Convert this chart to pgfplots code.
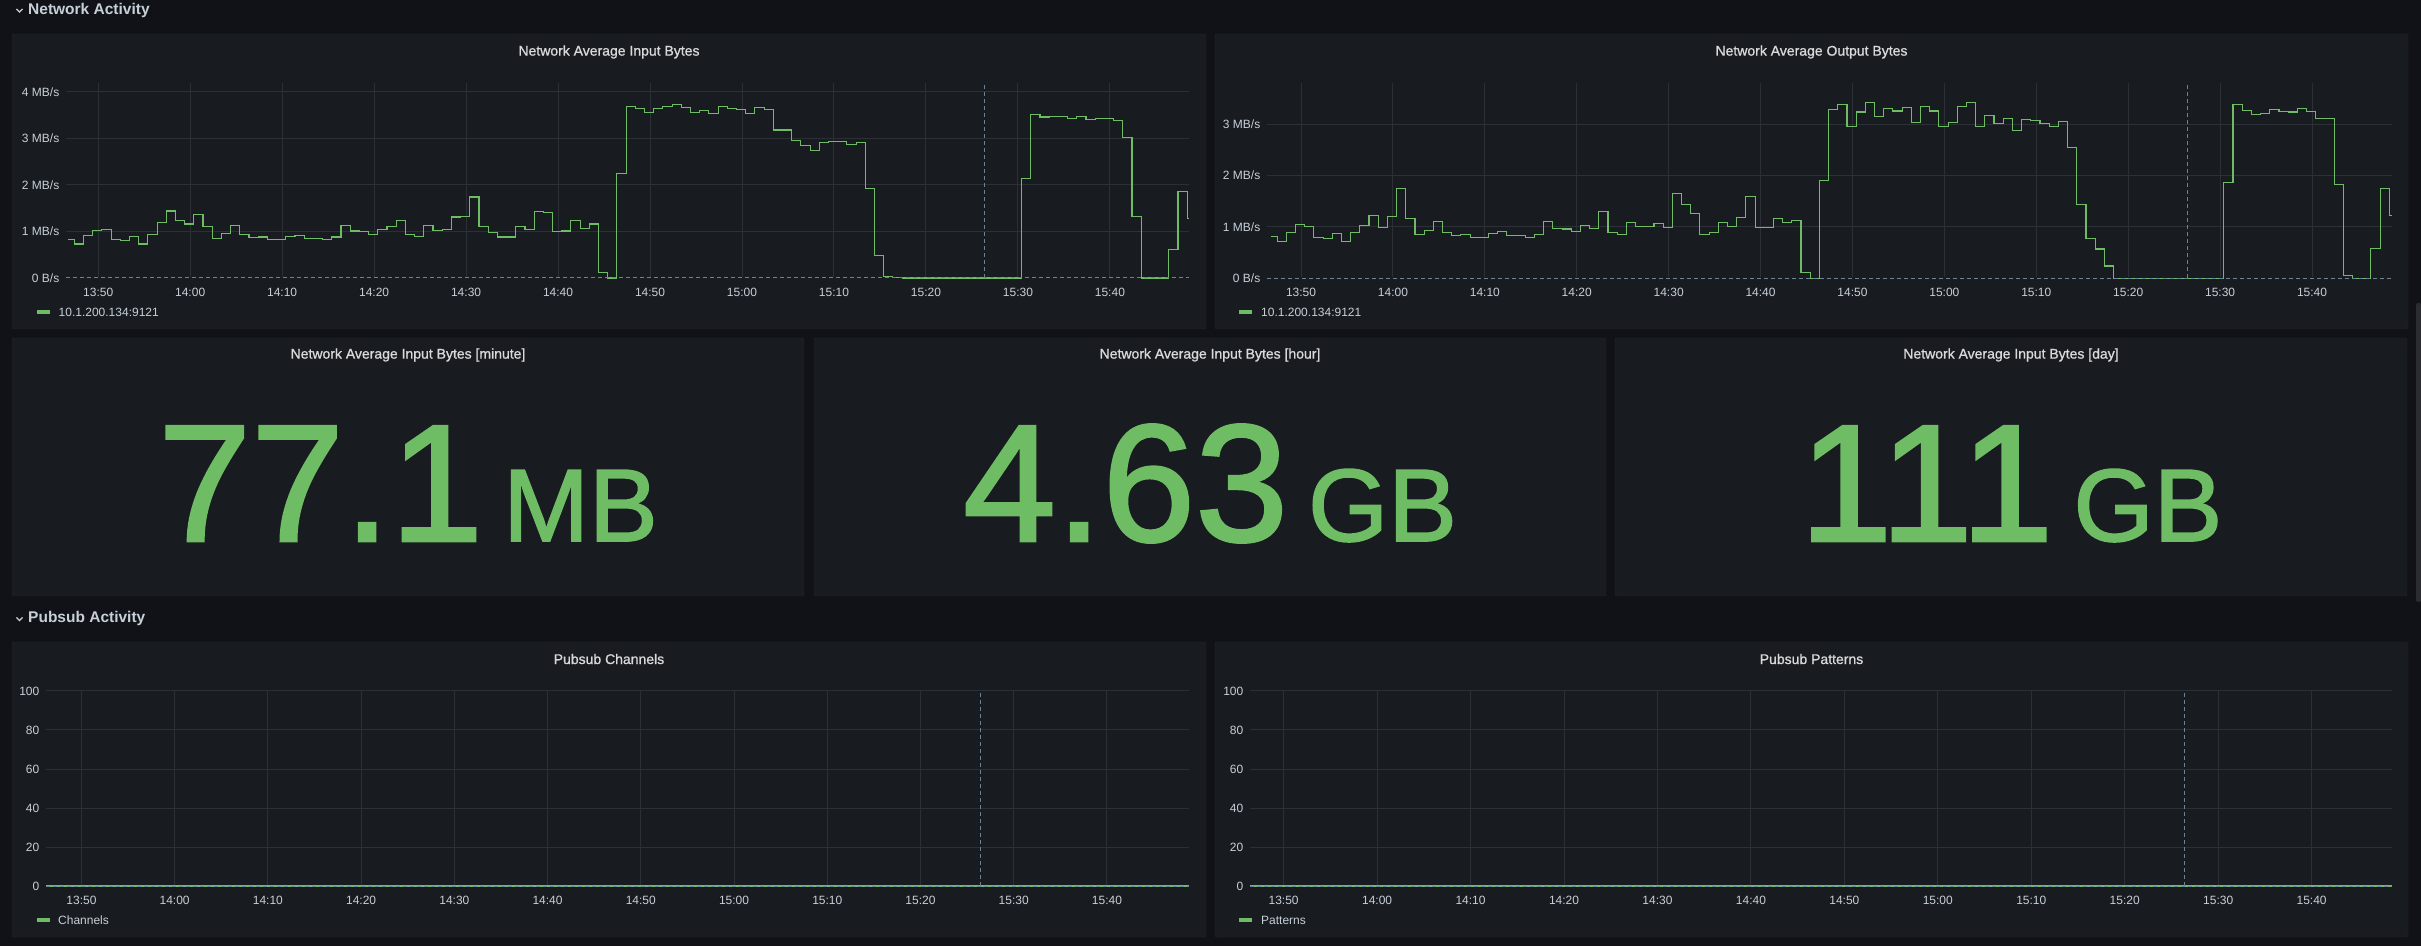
\documentclass[border=0pt]{standalone}
\usepackage{pgfplots}
\pgfplotsset{compat=1.18}
\usepackage{fontspec}
\setmainfont{Liberation Sans}
\newfontfamily\statfont{Liberation Sans}[FakeBold=1.6]
\newfontfamily\titlefont{Liberation Sans}[FakeBold=1]
\definecolor{pagebg}{HTML}{111217}
\definecolor{panelbg}{HTML}{181B1F}
\definecolor{panelborder}{HTML}{24272C}
\definecolor{gridc}{HTML}{2C2F35}
\definecolor{txt}{HTML}{C7D0D9}
\definecolor{ttl}{HTML}{D8D9DA}
\definecolor{grn}{HTML}{6EBC64}
\definecolor{dashc}{HTML}{6E8296}
\definecolor{scrollc}{HTML}{2A2C31}

\pgfplotsset{
  gstyle/.style={
    scale only axis,
    axis line style={draw=none},
    major tick length=0pt,
    grid=major,
    major grid style={draw=gridc, line width=1pt},
    tick label style={font=\fontsize{12}{14}\selectfont, text=txt},
    xticklabel style={anchor=center, inner sep=0pt, yshift=-14pt},
    yticklabel style={anchor=east, inner sep=0pt, xshift=-6.5pt},
    xtick={0,10,...,110},
    xticklabels={13:50,14:00,14:10,14:20,14:30,14:40,14:50,15:00,15:10,15:20,15:30,15:40},
    clip=false,
    anchor=south west,
  },
  gline/.style={grn, line width=1.1pt, const plot},
}

\begin{document}
\begin{tikzpicture}[x=1pt,y=1pt]
\fill[pagebg] (0,0) rectangle (2421,946);
\path[use as bounding box] (0,0) rectangle (2421,946);

% section headers
\draw[txt, line width=1.2pt] (16.5,937) -- (19.5,934) -- (22.5,937);
\node[anchor=west, inner sep=0pt, text=txt] at (28,935.5) {\fontsize{15.5}{18}\selectfont\bfseries Network Activity};
\draw[txt, line width=1.2pt] (16.5,328.5) -- (19.5,325.5) -- (22.5,328.5);
\node[anchor=west, inner sep=0pt, text=txt] at (28,328) {\fontsize{15.5}{18}\selectfont\bfseries Pubsub Activity};

% panels
\draw[panelborder, fill=panelbg, rounded corners=2pt] (12,617) rectangle (1206,912);
\draw[panelborder, fill=panelbg, rounded corners=2pt] (1215,617) rectangle (2408,912);
\draw[panelborder, fill=panelbg, rounded corners=2pt] (12,350) rectangle (804,608);
\draw[panelborder, fill=panelbg, rounded corners=2pt] (814,350) rectangle (1606,608);
\draw[panelborder, fill=panelbg, rounded corners=2pt] (1615,350) rectangle (2407,608);
\draw[panelborder, fill=panelbg, rounded corners=2pt] (12,9) rectangle (1206,304);
\draw[panelborder, fill=panelbg, rounded corners=2pt] (1215,9) rectangle (2408,304);

% scrollbar
\fill[scrollc, rounded corners=2pt] (2416,344) rectangle (2421,643);

% titles
\node[text=ttl, inner sep=0pt] at (609,894) {\titlefont\fontsize{14}{16}\selectfont Network Average Input Bytes};
\node[text=ttl, inner sep=0pt] at (1811.5,894) {\titlefont\fontsize{14}{16}\selectfont Network Average Output Bytes};
\node[text=ttl, inner sep=0pt] at (408,591) {\titlefont\fontsize{14}{16}\selectfont Network Average Input Bytes [minute]};
\node[text=ttl, inner sep=0pt] at (1210,591) {\titlefont\fontsize{14}{16}\selectfont Network Average Input Bytes [hour]};
\node[text=ttl, inner sep=0pt] at (2011,591) {\titlefont\fontsize{14}{16}\selectfont Network Average Input Bytes [day]};
\node[text=ttl, inner sep=0pt] at (609,287) {\titlefont\fontsize{14}{16}\selectfont Pubsub Channels};
\node[text=ttl, inner sep=0pt] at (1811.5,287) {\titlefont\fontsize{14}{16}\selectfont Pubsub Patterns};

% stat values
\node[anchor=base, inner sep=0pt, text=grn] at (408,405) {\statfont\fontsize{167}{170}\selectfont 77.1\hspace{20pt}\fontsize{103}{105}\selectfont MB};
\node[anchor=base, inner sep=0pt, text=grn] at (1210,405) {\statfont\fontsize{167}{170}\selectfont 4.63\hspace{20pt}\fontsize{103}{105}\selectfont GB};
\node[anchor=base, inner sep=0pt, text=grn] at (2011,405) {\statfont\fontsize{167}{170}\selectfont 111\hspace{20pt}\fontsize{103}{105}\selectfont GB};

% legends
\fill[grn] (36.5,632.2) rectangle (49.5,635.8);
\node[anchor=west, inner sep=0pt, text=txt] at (58.5,634) {\fontsize{12}{14}\selectfont 10.1.200.134:9121};
\fill[grn] (1239,632.2) rectangle (1252,635.8);
\node[anchor=west, inner sep=0pt, text=txt] at (1261,634) {\fontsize{12}{14}\selectfont 10.1.200.134:9121};
\fill[grn] (36.5,24.2) rectangle (49.5,27.8);
\node[anchor=west, inner sep=0pt, text=txt] at (58,26) {\fontsize{12}{14}\selectfont Channels};
\fill[grn] (1239,24.2) rectangle (1252,27.8);
\node[anchor=west, inner sep=0pt, text=txt] at (1261,26) {\fontsize{12}{14}\selectfont Patterns};

% ---------- Network Average Input Bytes ----------
\begin{axis}[gstyle, at={(66pt,668pt)}, width=1123pt, height=195pt,
  xmin=-3.5, xmax=118.6, ymin=0, ymax=4.19,
  ytick={0,1,2,3,4}, yticklabels={0 B/s,1 MB/s,2 MB/s,3 MB/s,4 MB/s}]
\draw[panelbg, line width=1.6pt] (rel axis cs:0,0) -- (rel axis cs:1,0);
\addplot[gline] coordinates {
(-3.3,0.83) (-2.6,0.73) (-1.6,0.92) (-0.6,1.03) (0.4,1.05) (1.4,0.82) (2.4,0.80) (3.4,0.90)
(4.4,0.73) (5.4,0.94) (6.4,1.20) (7.4,1.44) (8.4,1.23) (9.4,1.16) (10.4,1.37) (11.4,1.10)
(12.4,0.85) (13.4,0.95) (14.4,1.13) (15.4,0.93) (16.4,0.87) (17.4,0.88) (18.4,0.82) (19.4,0.82)
(20.4,0.90) (21.4,0.91) (22.4,0.84) (23.4,0.85) (24.4,0.82) (25.4,0.88) (26.4,1.13) (27.4,1.01)
(28.4,1.00) (29.4,0.93) (30.4,1.05) (31.4,1.10) (32.4,1.23) (33.4,0.93) (34.4,0.89) (35.4,1.12)
(36.4,1.03) (37.4,1.05) (38.4,1.31) (39.4,1.33) (40.4,1.74) (41.4,1.10) (42.4,0.98) (43.4,0.88)
(44.4,0.88) (45.4,1.11) (46.4,1.05) (47.4,1.42) (48.4,1.41) (49.4,0.99) (50.4,1.01) (51.4,1.23)
(52.4,1.07) (53.4,1.16) (54.4,0.11) (55.4,0) (56.4,2.25) (57.4,3.69) (58.4,3.65) (59.4,3.55)
(60.4,3.65) (61.4,3.68) (62.4,3.73) (63.4,3.67) (64.4,3.56) (65.4,3.60) (66.4,3.53) (67.4,3.68)
(68.4,3.64) (69.4,3.63) (70.4,3.53) (71.4,3.66) (72.4,3.63) (73.4,3.18) (74.4,3.18) (75.4,2.95)
(76.4,2.84) (77.4,2.73) (78.4,2.92) (79.4,2.94) (80.4,2.93) (81.4,2.86) (82.4,2.92) (83.4,1.93)
(84.4,0.49) (85.4,0.04) (86.4,0.01) (87.4,0) (100.4,2.14) (101.4,3.52) (102.4,3.46) (103.4,3.47)
(104.4,3.47) (105.4,3.43) (106.4,3.47) (107.4,3.41) (108.4,3.43) (109.4,3.43) (110.4,3.38) (111.4,3.02)
(112.4,1.33) (113.4,0) (116.4,0.62) (117.4,1.86) (118.4,1.28) (118.6,1.28)
};
\draw[dashc, line width=1pt, dash pattern=on 4pt off 3pt] (rel axis cs:0,0) -- (rel axis cs:1,0);
\draw[dashc, line width=1pt, dash pattern=on 4pt off 3pt] (axis cs:96.4,0) -- (axis cs:96.4,4.19);
\end{axis}

% ---------- Network Average Output Bytes ----------
\begin{axis}[gstyle, at={(1267pt,667.7pt)}, width=1125pt, height=195pt,
  xmin=-3.7, xmax=118.7, ymin=0, ymax=3.8,
  ytick={0,1,2,3}, yticklabels={0 B/s,1 MB/s,2 MB/s,3 MB/s}]
\draw[panelbg, line width=1.6pt] (rel axis cs:0,0) -- (rel axis cs:1,0);
\addplot[gline] coordinates {
(-3.3,0.81) (-2.6,0.71) (-1.6,0.90) (-0.6,1.05) (0.4,1.01) (1.4,0.80) (2.4,0.78) (3.4,0.88)
(4.4,0.72) (5.4,0.90) (6.4,1.03) (7.4,1.23) (8.4,0.99) (9.4,1.21) (10.4,1.75) (11.4,1.16)
(12.4,0.86) (13.4,0.93) (14.4,1.10) (15.4,0.90) (16.4,0.83) (17.4,0.86) (18.4,0.80) (19.4,0.80)
(20.4,0.88) (21.4,0.92) (22.4,0.83) (23.4,0.83) (24.4,0.80) (25.4,0.86) (26.4,1.10) (27.4,0.97)
(28.4,0.96) (29.4,0.91) (30.4,1.03) (31.4,0.97) (32.4,1.30) (33.4,0.90) (34.4,0.86) (35.4,1.09)
(36.4,1.01) (37.4,1.01) (38.4,1.07) (39.4,0.99) (40.4,1.66) (41.4,1.44) (42.4,1.27) (43.4,0.86)
(44.4,0.89) (45.4,1.09) (46.4,1.01) (47.4,1.18) (48.4,1.59) (49.4,0.99) (50.4,0.99) (51.4,1.16)
(52.4,1.09) (53.4,1.12) (54.4,0.12) (55.4,0) (56.4,1.90) (57.4,3.29) (58.4,3.39) (59.4,2.96)
(60.4,3.24) (61.4,3.42) (62.4,3.15) (63.4,3.31) (64.4,3.26) (65.4,3.33) (66.4,3.04) (67.4,3.35)
(68.4,3.26) (69.4,2.96) (70.4,3.04) (71.4,3.35) (72.4,3.43) (73.4,2.96) (74.4,3.18) (75.4,3.02)
(76.4,3.12) (77.4,2.88) (78.4,3.10) (79.4,3.07) (80.4,3.01) (81.4,2.96) (82.4,3.06) (83.4,2.55)
(84.4,1.44) (85.4,0.78) (86.4,0.57) (87.4,0.24) (88.4,0) (100.4,1.86) (101.4,3.39) (102.4,3.27)
(103.4,3.20) (104.4,3.22) (105.4,3.29) (106.4,3.25) (107.4,3.24) (108.4,3.31) (109.4,3.25) (110.4,3.12)
(111.4,3.11) (112.4,1.83) (113.4,0.05) (114.4,0) (116.4,0.58) (117.4,1.75) (118.4,1.22) (118.7,1.22)
};
\draw[dashc, line width=1pt, dash pattern=on 4pt off 3pt] (rel axis cs:0,0) -- (rel axis cs:1,0);
\draw[dashc, line width=1pt, dash pattern=on 4pt off 3pt] (axis cs:96.5,0) -- (axis cs:96.5,3.8);
\end{axis}

% ---------- Pubsub Channels ----------
\begin{axis}[gstyle, at={(46pt,60pt)}, width=1143pt, height=195pt,
  xmin=-3.8, xmax=118.8, ymin=0, ymax=100,
  ytick={0,20,40,60,80,100}, yticklabels={0,20,40,60,80,100}]
\draw[panelbg, line width=1.6pt] (rel axis cs:0,0) -- (rel axis cs:1,0);
\addplot[gline] coordinates {(-3.8,0) (118.8,0)};
\draw[dashc, line width=1pt, dash pattern=on 4pt off 3pt] (rel axis cs:0,0) -- (rel axis cs:1,0);
\draw[dashc, line width=1pt, dash pattern=on 4pt off 3pt] (axis cs:96.4,0) -- (axis cs:96.4,100);
\end{axis}

% ---------- Pubsub Patterns ----------
\begin{axis}[gstyle, at={(1250pt,60pt)}, width=1142pt, height=195pt,
  xmin=-3.6, xmax=118.6, ymin=0, ymax=100,
  ytick={0,20,40,60,80,100}, yticklabels={0,20,40,60,80,100}]
\draw[panelbg, line width=1.6pt] (rel axis cs:0,0) -- (rel axis cs:1,0);
\addplot[gline] coordinates {(-3.6,0) (118.6,0)};
\draw[dashc, line width=1pt, dash pattern=on 4pt off 3pt] (rel axis cs:0,0) -- (rel axis cs:1,0);
\draw[dashc, line width=1pt, dash pattern=on 4pt off 3pt] (axis cs:96.4,0) -- (axis cs:96.4,100);
\end{axis}
\end{tikzpicture}
\end{document}
